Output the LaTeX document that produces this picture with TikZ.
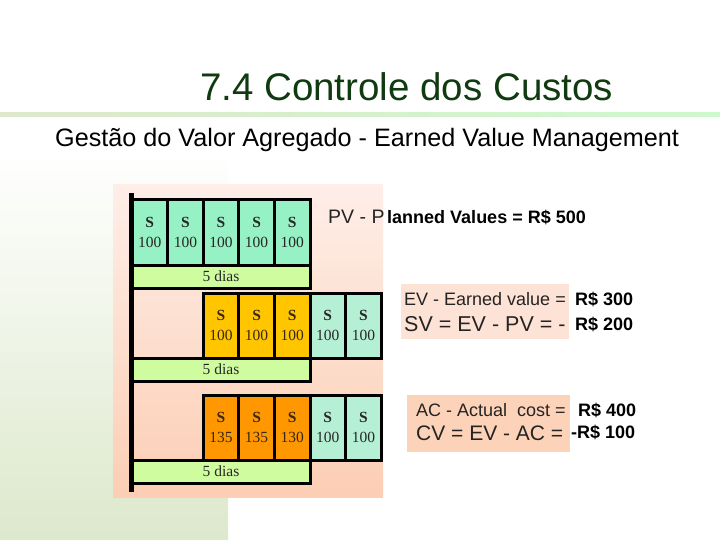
\documentclass[tikz,border=0pt]{standalone}
\usepackage{fontspec}
\setmainfont{Liberation Sans}
\newfontfamily\cellfont{Liberation Serif}
\usetikzlibrary{positioning}

\definecolor{titlegreen}{RGB}{16,58,16}
\definecolor{pvgreen}{RGB}{150,242,196}
\definecolor{palegreen}{RGB}{182,240,212}
\definecolor{evyellow}{RGB}{255,198,0}
\definecolor{acorange}{RGB}{255,152,0}
\definecolor{diasgreen}{RGB}{208,252,160}
\definecolor{panelpink}{RGB}{253,226,214}
\definecolor{panelpeach}{RGB}{252,210,184}
\definecolor{slidegreen}{RGB}{221,232,204}
\definecolor{linemint}{RGB}{206,248,206}
\definecolor{imgtop}{RGB}{254,238,232}
\definecolor{imgbot}{RGB}{252,206,180}
\definecolor{inkgrey}{RGB}{36,36,36}

\begin{document}
\begin{tikzpicture}[x=1pt, y=-1pt,
    cell/.style = {draw, line width=3pt, minimum width=35.6pt, minimum height=65pt, inner sep=0pt, outer sep=0pt, align=center, text=black!85, font=\cellfont\fontsize{15.5}{20}\selectfont},
    pvcell/.style = {cell, fill=pvgreen},
    restcell/.style = {cell, fill=palegreen},
    evcell/.style = {cell, fill=evyellow, text=black!70!brown},
    accell/.style = {cell, fill=acorange, text=black!70!brown},
    diasbar/.style = {draw, line width=3pt, fill=diasgreen, minimum width=178pt, minimum height=23pt, inner sep=0pt, outer sep=0pt, text=black!85, font=\cellfont\fontsize{15.5}{16}\selectfont},
    panel/.style = {minimum width=168pt, minimum height=55pt, inner sep=0pt, anchor=north west},
    imgtext/.style = {anchor=base west, inner sep=0pt, text=inkgrey},
    value/.style = {anchor=base west, inner sep=0pt, font=\bfseries\fontsize{18}{20}\selectfont}
]
\useasboundingbox (0,0) rectangle (720,540);
\fill[white] (0,0) rectangle (720,540);
% slide decoration
\shade[top color=white, bottom color=slidegreen] (0,150) rectangle (228,540);
\shade[left color=slidegreen, right color=linemint] (0,113) rectangle (720,117);

\node (title) [anchor=base west, inner sep=0pt, text=titlegreen, font=\fontsize{38.5}{44}\selectfont] at (200,101) {7.4 Controle dos Custos};
\node (sub) [anchor=base west, inner sep=0pt, font=\fontsize{25.2}{30}\selectfont] at (55,147) {Gestão do Valor Agregado - Earned Value Management};

% picture of the three schedules
\shade[top color=imgtop, bottom color=imgbot] (113,185) rectangle (383,497);
\fill[black] (129,193) rectangle (134,492);

\node (p1) [pvcell, anchor=north west] at (132,200) {\textbf{S}\\100};
\node (p2) [pvcell, right=0pt of p1] {\textbf{S}\\100};
\node (p3) [pvcell, right=0pt of p2] {\textbf{S}\\100};
\node (p4) [pvcell, right=0pt of p3] {\textbf{S}\\100};
\node (p5) [pvcell, right=0pt of p4] {\textbf{S}\\100};
\node (d1) [diasbar, anchor=north west] at (p1.south west) {5 dias};

\node (e1) [evcell, anchor=north west] at (p3.west |- 0,293) {\textbf{S}\\100};
\node (e2) [evcell, right=0pt of e1] {\textbf{S}\\100};
\node (e3) [evcell, right=0pt of e2] {\textbf{S}\\100};
\node (e4) [restcell, right=0pt of e3] {\textbf{S}\\100};
\node (e5) [restcell, right=0pt of e4] {\textbf{S}\\100};
\node (d2) [diasbar, anchor=north west] at (p1.west |- e1.south) {5 dias};

\node (a1) [accell, anchor=north west] at (p3.west |- 0,395) {\textbf{S}\\135};
\node (a2) [accell, right=0pt of a1] {\textbf{S}\\135};
\node (a3) [accell, right=0pt of a2] {\textbf{S}\\130};
\node (a4) [restcell, right=0pt of a3] {\textbf{S}\\100};
\node (a5) [restcell, right=0pt of a4] {\textbf{S}\\100};
\node (d3) [diasbar, anchor=north west] at (p1.west |- a1.south) {5 dias};

% PV
\node (pvlabel) [imgtext, font=\fontsize{19.5}{22}\selectfont] at (328,223) {PV - P};
\node (pvvalue) [value] at (387,223) {lanned Values = R\$ 500};

% EV and SV
\node (evbox) [panel, fill=panelpink] at (401,284) {};
\node (evlabel) [imgtext, font=\fontsize{18}{20}\selectfont] at (404,305) {EV - Earned value =};
\node (svlabel) [imgtext, font=\fontsize{21.5}{24}\selectfont] at (404,331) {SV = EV - PV = -};
\node (evvalue) [value] at (575,305) {R\$ 300};
\node (svvalue) [value] at (575,330) {R\$ 200};

% AC and CV
\node (acbox) [panel, fill=panelpeach, minimum width=163pt, minimum height=57pt] at (407,395) {};
\node (aclabel) [imgtext, font=\fontsize{18}{20}\selectfont] at (416,416) {AC - Actual\ \ cost =};
\node (cvlabel) [imgtext, font=\fontsize{21}{24}\selectfont] at (416,440) {CV = EV - AC =};
\node (acvalue) [value] at (578,416) {R\$ 400};
\node (cvvalue) [value] at (571,438) {-R\$ 100};
\end{tikzpicture}
\end{document}
